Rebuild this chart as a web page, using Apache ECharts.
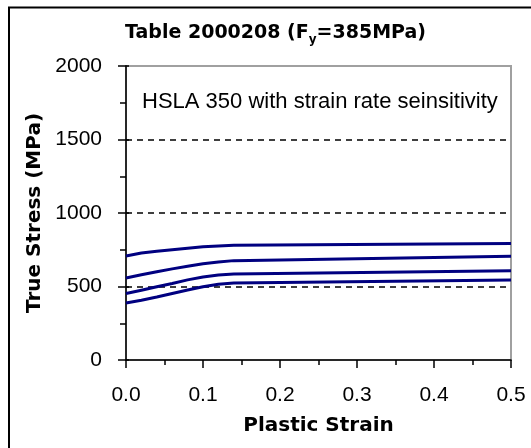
<!DOCTYPE html>
<html>
<head>
    <meta charset="UTF-8">
    <title>Table 2000208</title>
    <script src="https://cdn.jsdelivr.net/npm/echarts@6/dist/echarts.min.js"></script>
    <style>
        body { margin: 0; padding: 0; background: #fff; }
        #chart { width: 531px; height: 448px; }
    </style>
</head>
<body>
    <div id="chart"></div>
    <script>
        // plastic strain points (shared by all curves)
        const strain = [0, 0.02, 0.04, 0.06, 0.08, 0.1, 0.12, 0.14, 0.5];
        // true stress (MPa), one array per curve, top to bottom
        const stress1 = [708, 728, 740, 750, 760, 770, 776, 780, 792];
        const stress2 = [558, 580, 600, 620, 638, 655, 667, 676, 706];
        const stress3 = [452, 475, 498, 520, 545, 565, 578, 585, 607];
        const stress4 = [388, 407, 428, 452, 476, 498, 515, 524, 544];
        const curves = [stress1, stress2, stress3, stress4];

        const xTicks = [0, 0.1, 0.2, 0.3, 0.4, 0.5];
        const yTicks = [0, 500, 1000, 1500, 2000];

        const labelFont = 'Liberation Sans, Arial, sans-serif';
        const boldFont = 'DejaVu Sans, sans-serif';

        const chart = echarts.init(document.getElementById('chart'));

        const option = {
            animation: false,
            backgroundColor: '#fff',
            title: [
                {
                    text: 'Table 2000208 (F{sub|y}=385MPa)',
                    left: 120,
                    top: 15,
                    textStyle: {
                        fontFamily: boldFont,
                        fontWeight: 'bold',
                        fontSize: 19,
                        lineHeight: 26,
                        color: '#000',
                        rich: {
                            sub: {
                                fontFamily: boldFont,
                                fontWeight: 'bold',
                                fontSize: 12,
                                lineHeight: 12,
                                verticalAlign: 'bottom',
                                color: '#000'
                            }
                        }
                    }
                },
                {
                    text: 'HSLA 350 with strain rate seinsitivity',
                    left: 137,
                    top: 85,
                    textStyle: {
                        fontFamily: labelFont,
                        fontWeight: 'normal',
                        fontSize: 22,
                        lineHeight: 24,
                        color: '#000'
                    }
                }
            ],
            graphic: [{
                type: 'rect',
                silent: true,
                shape: { x: 9, y: 7.5, width: 600, height: 500 },
                style: { fill: 'none', stroke: '#000', lineWidth: 2 }
            }],
            grid: {
                left: 126,
                right: 20,
                top: 66,
                bottom: 88,
                show: true,
                borderColor: '#a0a0a0',
                borderWidth: 2,
                outerBoundsMode: 'none'
            },
            xAxis: {
                type: 'value',
                min: xTicks[0],
                max: xTicks[xTicks.length - 1],
                interval: 0.1,
                name: 'Plastic Strain',
                nameLocation: 'middle',
                nameGap: 56,
                nameTextStyle: { fontFamily: boldFont, fontWeight: 'bold', fontSize: 20, color: '#000' },
                axisLine: { lineStyle: { color: '#000', width: 1.5 } },
                axisTick: { length: 8, lineStyle: { color: '#000', width: 1.5 } },
                minorTick: { show: true, splitNumber: 2, length: 5, lineStyle: { color: '#000', width: 1.5 } },
                axisLabel: {
                    margin: 25,
                    fontFamily: labelFont,
                    fontSize: 21,
                    color: '#000',
                    formatter: v => v.toFixed(1)
                },
                splitLine: { show: false }
            },
            yAxis: [
                {
                    type: 'value',
                    min: yTicks[0],
                    max: yTicks[yTicks.length - 1],
                    interval: 500,
                    name: 'True Stress (MPa)',
                    nameLocation: 'middle',
                    nameGap: 76,
                    nameTextStyle: { fontFamily: boldFont, fontWeight: 'bold', fontSize: 20, color: '#000' },
                    axisLine: { show: true, lineStyle: { color: '#000', width: 1.5 } },
                    axisTick: { show: true, length: 8, lineStyle: { color: '#000', width: 1.5 } },
                    minorTick: { show: true, splitNumber: 2, length: 6, lineStyle: { color: '#000', width: 1.5 } },
                    axisLabel: {
                        margin: 24,
                        fontFamily: labelFont,
                        fontSize: 21,
                        color: '#000',
                        formatter: v => String(v)
                    },
                    splitLine: {
                        show: true,
                        showMinLine: false,
                        showMaxLine: false,
                        lineStyle: { color: '#000', type: [6, 5], width: 1.5 }
                    }
                },
                {
                    // inner half of the crossing major ticks
                    type: 'value',
                    position: 'left',
                    min: yTicks[0],
                    max: yTicks[yTicks.length - 1],
                    interval: 500,
                    axisLine: { show: false },
                    axisTick: { show: true, inside: true, length: 3, lineStyle: { color: '#000', width: 1.5 } },
                    axisLabel: { show: false },
                    splitLine: { show: false }
                }
            ],
            series: curves.map(c => ({
                type: 'line',
                data: strain.map((s, i) => [s, c[i]]),
                showSymbol: false,
                lineStyle: { color: '#000080', width: 3 },
                itemStyle: { color: '#000080' }
            }))
        };

        chart.setOption(option);
    </script>
</body>
</html>
